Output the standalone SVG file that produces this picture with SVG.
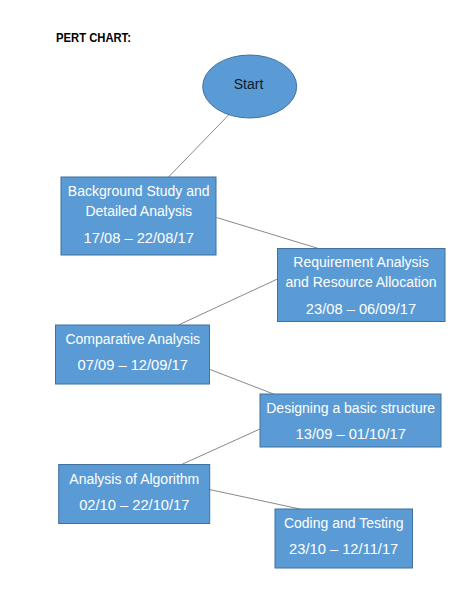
<svg xmlns="http://www.w3.org/2000/svg" width="474" height="613" viewBox="0 0 474 613">
<style>
.bg{fill:#ffffff}
.node{fill:#5B9BD5;stroke:#41719C;stroke-width:1}
.lbl{font-family:"Liberation Sans",Arial,sans-serif;font-size:14px;fill:#ffffff;text-anchor:middle}
.date{font-size:14.7px}
.start{font-family:"Liberation Sans",Arial,sans-serif;font-size:14px;fill:#0d1a2a;text-anchor:middle}
.title{font-family:"Liberation Sans",Arial,sans-serif;font-size:13px;font-weight:bold;fill:#000000}
.conn line{stroke:#6b6b6b;stroke-width:0.8}
</style>
<rect class="bg" x="0" y="0" width="474" height="613"/>
<text class="title" x="56" y="41.5" textLength="75" lengthAdjust="spacingAndGlyphs">PERT CHART:</text>
<g id="connectors" class="conn">
<line x1="230" y1="113.5" x2="168.5" y2="177"/>
<line x1="216.5" y1="217.5" x2="318.5" y2="248.5"/>
<line x1="277.5" y1="279" x2="178.5" y2="325"/>
<line x1="210" y1="369.5" x2="273.5" y2="394"/>
<line x1="260" y1="429" x2="181.5" y2="464.5"/>
<line x1="209.5" y1="489.5" x2="300" y2="509"/>
</g>
<g id="start">
<ellipse class="node" cx="249.7" cy="86.5" rx="47" ry="31.5"/>
<text class="start" x="248.5" y="89">Start</text>
</g>
<g id="background-study">
<rect class="node" x="61" y="177" width="155" height="78"/>
<text class="lbl" x="138.7" y="196">Background Study and</text>
<text class="lbl" x="138.7" y="216">Detailed Analysis</text>
<text class="lbl date" x="138.7" y="243">17/08 – 22/08/17</text>
</g>
<g id="requirement-analysis">
<rect class="node" x="277.5" y="248.5" width="167.5" height="73"/>
<text class="lbl" x="361" y="267">Requirement Analysis</text>
<text class="lbl" x="361" y="287">and Resource Allocation</text>
<text class="lbl date" x="361" y="313.5">23/08 – 06/09/17</text>
</g>
<g id="comparative-analysis">
<rect class="node" x="55.5" y="325" width="154" height="59"/>
<text class="lbl" x="132.7" y="344">Comparative Analysis</text>
<text class="lbl date" x="132.7" y="370">07/09 – 12/09/17</text>
</g>
<g id="designing-structure">
<rect class="node" x="260" y="394" width="181" height="53"/>
<text class="lbl" x="350.7" y="412.5">Designing a basic structure</text>
<text class="lbl date" x="350.7" y="439">13/09 – 01/10/17</text>
</g>
<g id="analysis-algorithm">
<rect class="node" x="58.7" y="464.5" width="151" height="59"/>
<text class="lbl" x="134.3" y="483.5">Analysis of Algorithm</text>
<text class="lbl date" x="134.3" y="510">02/10 – 22/10/17</text>
</g>
<g id="coding-testing">
<rect class="node" x="275" y="509" width="137.5" height="59"/>
<text class="lbl" x="343.7" y="527.5">Coding and Testing</text>
<text class="lbl date" x="343.7" y="554">23/10 – 12/11/17</text>
</g>
</svg>
